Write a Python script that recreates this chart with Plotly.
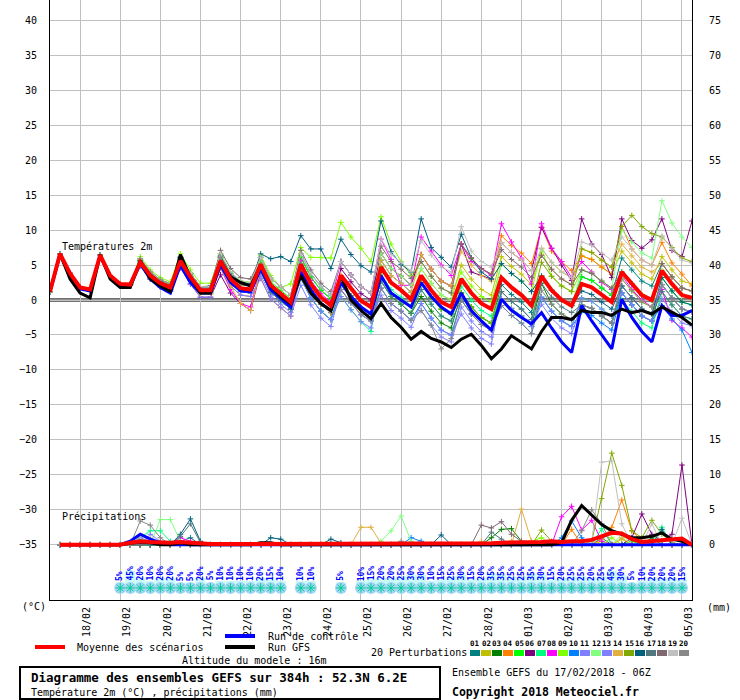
import pandas as pd
import plotly.graph_objects as go

# GEFS run of 17/02/2018 06Z, one value every 6 h from 0 to 384 h
times = pd.date_range("2018-02-17 06:00", periods=65, freq="6h")

# --- 2 m temperature (deg C), 06Z start then 4 values per day (12Z, 18Z, 00Z, 06Z)
t_mean = [1.2,
          6.6, 3.8, 1.8, 1.5, 6.4, 3.5, 2.3, 2.2, 5.4, 3.5, 2.4, 1.8, 5.6, 3.3, 1.4, 1.4,
          5.6, 3.0, 1.7, 1.5, 5.1, 2.1, 0.9, -0.3, 5.1, 2.3, 0.4, -0.8, 3.5, 1.6, -0.1, -1.0,
          4.7, 2.5, 1.4, 0.1, 3.5, 1.4, -0.3, -1.0, 3.0, 1.0, -0.5, -1.3, 3.2, 1.8, 0.7, -0.8,
          3.4, 1.4, 0.0, -0.8, 2.3, 1.8, 0.7, -0.3, 4.0, 2.3, 0.7, 0.0, 4.2, 2.3, 0.7, 0.3]
t_gfs = [1.2,
         6.6, 3.0, 1.0, 0.3, 6.5, 3.0, 1.8, 1.8, 5.6, 3.0, 2.0, 1.2, 6.5, 3.2, 1.0, 1.0,
         5.5, 3.3, 2.5, 2.0, 5.0, 2.0, 0.5, -0.5, 3.5, 1.0, -0.5, -1.5, 3.5, 0.0, -1.5, -2.7,
         -0.5, -2.5, -3.9, -5.6, -4.5, -5.5, -6.0, -6.8, -5.6, -4.9, -6.5, -8.4, -7.0, -5.1, -6.0, -7.0,
         -4.5, -2.5, -2.5, -2.8, -1.5, -1.8, -1.8, -2.2, -1.3, -1.8, -1.5, -2.0, -1.0, -1.8, -2.5, -3.6]
t_ctrl = [1.2,
          6.5, 3.5, 1.6, 1.3, 6.3, 3.3, 2.0, 2.0, 5.2, 3.0, 1.8, 1.0, 5.0, 2.5, 1.0, 1.0,
          5.0, 2.5, 1.3, 1.2, 4.5, 1.5, 0.3, -1.0, 4.0, 1.5, -0.5, -1.5, 2.5, 0.5, -1.0, -2.0,
          3.5, 1.0, 0.0, -1.0, 2.5, 0.5, -1.0, -2.0, 1.0, -1.5, -3.0, -4.3, 0.1, -1.5, -2.5, -3.4,
          -1.8, -4.0, -6.0, -7.5, -0.8, -3.0, -5.0, -7.0, 0.1, -2.5, -4.5, -6.0, -0.8, -2.2, -2.2, -1.5]

t_p01 = [1.2,
         6.6, 3.8, 1.8, 1.5, 6.4, 3.5, 2.3, 2.2, 5.6, 3.7, 2.6, 2.0, 5.9, 3.6, 1.7, 1.7,
         6.1, 3.5, 2.2, 2.0, 6.1, 3.1, 1.9, 0.7, 6.6, 3.8, 1.9, 0.7, 5.5, 3.6, 1.9, 1.0,
         5.7, 3.5, 2.4, 1.1, 2.5, 0.4, -1.3, -2.0, 1.0, -1.0, -2.5, -3.3, 2.2, 0.8, -0.3, -1.8,
         3.4, 1.4, 0.0, -0.8, 3.3, 2.8, 1.7, 0.7, 6.0, 4.3, 2.7, 2.0, 5.2, 3.3, 1.7, 1.3]
t_p02 = [1.2,
         6.6, 3.8, 1.8, 1.5, 6.4, 3.5, 2.3, 2.2, 5.1, 3.2, 2.1, 1.5, 5.1, 2.8, 0.9, 0.9,
         5.6, 3.0, 1.7, 1.5, 4.1, 1.1, -0.1, -1.3, 3.1, 0.3, -1.6, -2.8, 2.5, 0.6, -1.1, -2.0,
         4.7, 2.5, 1.4, 0.1, 4.5, 2.4, 0.7, 0.0, 5.0, 3.0, 1.5, 0.7, 6.2, 4.8, 3.7, 2.2,
         7.4, 5.4, 4.0, 3.2, 6.3, 5.8, 4.7, 3.7, 7.0, 5.3, 3.7, 3.0, 6.2, 4.3, 2.7, 2.3]
t_p03 = [1.2,
         6.6, 3.8, 1.8, 1.5, 6.4, 3.5, 2.3, 2.2, 5.6, 3.7, 2.6, 2.0, 5.6, 3.3, 1.4, 1.4,
         5.1, 2.5, 1.2, 1.0, 5.1, 2.1, 0.9, -0.3, 6.1, 3.3, 1.4, 0.2, 2.5, 0.6, -1.1, -2.0,
         2.7, 0.5, -0.6, -1.9, 0.5, -1.6, -3.3, -4.0, 1.0, -1.0, -2.5, -3.3, 0.2, -1.2, -2.3, -3.8,
         2.4, -0.6, -2.0, -2.8, -0.7, -1.2, -2.3, -3.3, 1.0, -0.7, -2.3, -3.0, 2.2, 0.3, -1.3, -1.7]
t_p04 = [1.2,
         6.6, 3.8, 1.8, 1.5, 6.4, 3.5, 2.3, 2.2, 5.1, 3.2, 2.1, 1.5, 5.1, 2.8, 0.9, 0.9,
         4.6, 2.0, 0.7, 0.5, 3.1, 0.1, -1.1, -2.3, 4.1, 1.3, -0.6, -1.8, 3.5, 1.6, -0.1, -1.0,
         6.7, 4.5, 3.4, 2.1, 6.5, 4.4, 2.7, 2.0, 8.0, 6.0, 4.5, 3.7, 9.2, 7.8, 6.7, 5.2,
         10.4, 7.0, 5.5, 4.2, 6.3, 5.8, 4.7, 3.7, 10.5, 7.3, 5.7, 5.0, 8.2, 5.3, 3.7, 2.0]
t_p05 = [1.2,
         6.6, 3.8, 1.8, 1.5, 6.4, 3.5, 2.3, 2.2, 5.9, 4.0, 2.9, 2.3, 6.1, 3.8, 1.9, 1.9,
         6.6, 4.0, 2.7, 2.5, 5.6, 2.6, 1.4, 0.2, 6.1, 3.3, 1.4, 0.2, 2.5, 0.6, -1.1, -2.0,
         2.7, 0.5, -0.6, -1.9, 2.5, 0.4, -1.3, -2.0, 1.0, -1.0, -2.5, -3.3, 1.2, -0.2, -1.3, -2.8,
         3.4, 1.4, 0.0, -0.8, 3.3, 2.8, 1.7, 0.7, 4.0, 2.3, 0.7, 0.0, 3.2, 1.3, -0.3, -0.7]
t_p06 = [1.2,
         6.6, 3.8, 1.8, 1.5, 6.4, 3.5, 2.3, 2.2, 4.9, 3.0, 1.9, 1.3, 4.6, 2.3, 0.4, 0.4,
         3.6, 1.0, -0.5, -1.5, 4.1, 1.1, -0.1, -1.3, 4.1, 1.3, -0.6, -1.8, 4.5, 2.6, 0.9, 0.0,
         6.7, 4.5, 3.4, 2.1, 6.5, 4.4, 2.7, 2.0, 8.0, 4.0, 3.5, 3.0, 8.2, 6.8, 5.7, 4.2,
         10.4, 7.4, 5.0, 2.8, 11.6, 8.0, 6.5, 3.2, 11.6, 8.5, 7.4, 8.6, 11.6, 7.1, 6.2, 11.3]
t_p07 = [1.2,
         6.6, 3.8, 1.8, 1.5, 6.4, 3.5, 2.3, 2.2, 5.7, 3.8, 2.7, 2.1, 5.6, 3.3, 1.4, 1.4,
         6.1, 3.5, 2.2, 2.0, 4.1, 1.1, -0.1, -1.3, 3.1, 0.3, -1.6, -2.8, 0.5, -1.4, -3.1, -4.5,
         3.7, 1.5, 0.4, -0.9, 1.5, -0.6, -2.3, -3.0, 2.0, 0.0, -1.5, -2.3, 0.2, -1.2, -2.3, -3.8,
         0.4, -1.6, -3.0, -3.8, 0.3, -0.2, -1.3, -2.3, 0.0, -1.7, -3.3, -4.0, 1.2, -0.7, -2.3, -2.7]
t_p08 = [1.2,
         6.6, 3.8, 1.8, 1.5, 6.4, 3.5, 2.3, 2.2, 5.9, 4.0, 2.9, 2.3, 6.1, 3.8, 1.9, 1.9,
         4.6, 1.5, -0.5, -1.0, 4.6, 1.6, 0.4, -0.8, 5.6, 2.8, 0.9, -0.3, 5.5, 3.6, 1.9, 1.0,
         8.7, 5.8, 2.1, 2.1, 9.0, 7.0, 5.0, 3.5, 8.0, 5.5, 4.5, 3.5, 10.9, 8.3, 6.0, 2.3,
         10.9, 7.4, 5.5, 3.2, 5.5, 4.0, 2.5, 1.5, 3.5, 1.5, 0.0, -1.0, 1.5, -2.9, -4.0, -5.3]
t_p09 = [1.2,
         6.6, 3.8, 1.8, 1.5, 6.4, 3.5, 2.3, 2.2, 6.2, 4.3, 3.2, 2.6, 6.6, 4.3, 2.4, 2.4,
         6.6, 4.0, 2.7, 2.5, 6.4, 3.5, 1.8, 2.3, 7.5, 6.1, 6.1, 6.0, 11.1, 9.0, 7.4, 5.5,
         11.9, 8.0, 5.5, 3.5, 5.5, 3.4, 1.7, 1.0, 4.0, 2.0, 0.5, -0.3, 5.2, 3.8, 2.7, 1.2,
         7.3, 3.4, 2.0, 1.2, 4.3, 3.8, 2.7, 1.7, 3.0, 1.3, -0.3, -1.0, 4.2, 2.3, 0.7, 0.3]
t_p10 = [1.2,
         6.6, 3.8, 1.8, 1.5, 6.4, 3.5, 2.3, 2.2, 4.9, 3.0, 1.9, 1.3, 5.3, 3.0, 1.1, 1.1,
         5.1, 2.5, 1.2, 1.0, 4.1, 1.1, -0.1, -1.3, 3.1, 0.3, -1.6, -2.8, 1.5, -0.4, -2.1, -3.0,
         1.7, -0.5, -1.6, -2.9, -0.5, -2.6, -4.3, -5.0, 0.0, -2.0, -3.5, -4.3, -0.8, -2.2, -3.3, -4.8,
         0.4, -1.6, -3.0, -3.8, -1.7, -2.2, -3.3, -4.3, 1.0, -0.7, -2.3, -3.0, -0.8, -2.7, -4.3, -7.5]
t_p11 = [1.2,
         6.6, 3.8, 1.8, 1.5, 6.4, 3.5, 2.3, 2.2, 4.9, 3.0, 1.9, 1.3, 4.6, 2.3, 0.4, 0.4,
         5.1, 2.5, 1.2, 1.0, 3.6, 0.6, -0.6, -1.8, 3.1, 0.3, -1.6, -2.8, 0.5, -1.4, -3.1, -4.0,
         1.7, -0.5, -1.6, -2.9, -1.5, -3.6, -5.3, -6.0, -1.0, -3.0, -4.5, -5.3, 0.2, -1.2, -2.3, -3.8,
         -0.6, -2.6, -4.0, -4.8, -0.7, -1.2, -2.3, -3.3, 2.0, 0.3, -1.3, -2.0, 2.2, 0.3, -1.3, -1.7]
t_p12 = [1.2,
         6.6, 3.8, 1.8, 1.5, 6.4, 3.5, 2.3, 2.2, 5.9, 4.0, 2.9, 2.3, 6.1, 3.8, 1.9, 1.9,
         6.1, 3.5, 2.2, 2.0, 6.1, 3.1, 1.9, 0.7, 5.1, 2.3, 0.4, -0.8, 2.5, 0.6, -1.1, -2.0,
         6.7, 4.5, 3.4, 2.1, 4.5, 2.4, 0.7, 0.0, 3.0, 1.0, -0.5, -1.3, 5.2, 3.8, 2.7, 1.2,
         3.4, 1.4, 0.0, -0.8, 4.3, 3.8, 2.7, 1.7, 10.0, 8.3, 6.7, 6.0, 14.2, 11.0, 9.0, 7.5]
t_p13 = [1.2,
         6.6, 3.8, 1.8, 1.5, 6.4, 3.5, 2.3, 2.2, 4.9, 3.0, 1.9, 1.3, 5.1, 2.8, 0.9, 0.9,
         4.6, 2.0, 0.7, 0.5, 3.1, 0.1, -1.1, -2.3, 2.1, -0.7, -2.6, -3.8, 1.5, -0.4, -2.1, -3.0,
         0.7, -1.5, -2.6, -3.9, -0.5, -2.6, -4.3, -5.0, -2.0, -4.0, -5.5, -6.3, 1.2, -0.2, -1.3, -2.8,
         0.4, -1.6, -3.0, -3.8, 0.3, -0.2, -1.3, -2.3, 1.0, -0.7, -2.3, -3.0, 0.2, -1.7, -3.3, -3.7]
t_p14 = [1.2,
         6.6, 3.8, 1.8, 1.5, 6.4, 3.5, 2.3, 2.2, 5.1, 3.2, 2.1, 1.5, 5.1, 2.8, 0.9, 0.9,
         4.6, 2.0, -0.5, -1.5, 4.6, 1.6, 0.4, -0.8, 4.1, 1.3, -0.6, -1.8, 3.5, 1.6, -0.1, -1.0,
         5.7, 3.5, 2.4, 1.1, 6.5, 4.4, 2.7, 2.0, 7.0, 5.0, 3.5, 2.7, 8.2, 6.8, 5.7, 4.2,
         6.4, 4.4, 3.0, 2.2, 7.3, 6.8, 5.7, 4.7, 8.0, 6.3, 4.7, 4.0, 5.2, 3.3, 1.7, 1.3]
t_p15 = [1.2,
         6.6, 3.8, 1.8, 1.5, 6.4, 3.5, 2.3, 2.2, 5.7, 3.8, 2.7, 2.1, 5.6, 3.3, 1.4, 1.4,
         6.1, 3.5, 2.2, 2.0, 5.1, 2.1, 0.9, -0.3, 4.1, 1.3, -0.6, -1.8, 2.5, 0.6, -1.1, -2.0,
         4.7, 2.5, 1.4, 0.1, 2.5, 0.4, -1.3, -2.0, 1.0, -1.0, -2.5, -3.3, 3.2, 1.8, 0.7, -0.8,
         5.4, 3.4, 2.0, 1.2, 7.3, 6.8, 5.7, 4.7, 10.5, 12.1, 10.5, 9.5, 9.0, 7.5, 6.0, 5.5]
t_p16 = [1.2,
         6.6, 3.8, 1.8, 1.5, 6.4, 3.5, 2.3, 2.2, 5.6, 3.7, 2.6, 2.0, 6.1, 3.8, 1.9, 2.0,
         6.3, 3.8, 2.5, 2.3, 6.6, 5.9, 6.2, 5.5, 9.2, 7.3, 7.3, 4.5, 8.7, 6.5, 4.9, 4.0,
         11.3, 6.9, 5.1, 4.0, 11.6, 7.5, 6.1, 4.7, 9.4, 6.0, 4.0, 3.0, 5.2, 3.8, 2.7, 1.2,
         3.4, 1.4, 0.0, -0.8, 1.3, 0.8, -0.3, -1.3, 2.0, 0.3, -1.3, -2.0, 3.2, 1.3, -0.3, -0.7]
t_p17 = [1.2,
         6.6, 3.8, 1.8, 1.5, 6.4, 3.5, 2.3, 2.2, 5.4, 3.5, 2.4, 1.8, 6.1, 3.8, 1.9, 1.9,
         5.6, 3.0, 1.7, 1.5, 4.1, 1.1, -0.1, -1.3, 5.1, 2.3, 0.4, -0.8, 2.5, 0.6, -1.1, -2.0,
         2.7, 0.5, -0.6, -1.9, 1.5, -0.6, -2.3, -3.0, 0.0, -2.0, -3.5, -4.3, 1.2, -0.2, -1.3, -2.8,
         2.4, 0.4, -1.0, -1.8, -0.7, -1.2, -2.3, -3.3, 2.0, 0.3, -1.3, -2.0, 1.2, -0.7, -2.3, -2.7]
t_p18 = [1.2,
         6.6, 3.8, 1.8, 1.5, 6.4, 3.5, 2.3, 2.2, 5.1, 3.2, 2.1, 1.5, 6.1, 3.8, 1.9, 1.9,
         7.1, 4.5, 3.2, 3.0, 6.1, 3.1, 1.9, 0.7, 7.1, 4.3, 2.4, 1.2, 5.5, 3.6, 1.9, 1.0,
         7.7, 5.5, 4.4, 3.1, 5.5, 3.4, 1.7, 1.0, 8.0, 6.0, 4.5, 3.7, 7.2, 5.8, 4.7, 3.2,
         6.4, 4.4, 3.0, 2.2, 4.3, 3.8, 2.7, 1.7, 4.0, 2.3, 0.7, 0.0, 5.2, 3.3, 1.7, 1.3]
t_p19 = [1.2,
         6.6, 3.8, 1.8, 1.5, 6.4, 3.5, 2.3, 2.2, 5.9, 4.0, 2.9, 2.3, 6.1, 3.8, 1.9, 1.9,
         6.6, 4.0, 2.7, 2.5, 6.1, 3.1, 1.9, 0.7, 6.6, 3.8, 1.9, 0.7, 5.5, 3.6, 1.9, 1.0,
         8.7, 6.5, 5.4, 4.1, 8.5, 6.4, 4.7, 4.0, 10.5, 7.0, 5.5, 4.7, 8.2, 6.8, 5.7, 4.2,
         7.4, 5.4, 4.0, 3.2, 8.3, 7.8, 6.7, 5.7, 9.0, 7.3, 5.7, 5.0, 9.2, 7.3, 5.7, 5.3]
t_p20 = [1.2,
         6.6, 3.8, 1.8, 1.5, 6.4, 3.5, 2.3, 2.2, 5.9, 4.0, 2.9, 2.3, 5.6, 3.3, 1.4, 1.4,
         6.1, 3.5, 2.2, 2.0, 5.1, 2.1, 0.9, -0.3, 4.1, 1.3, -0.6, -1.8, 1.5, -0.4, -2.1, -3.0,
         1.7, -0.5, -1.6, -2.9, -1.5, -3.6, -7.0, -5.5, 0.0, -2.0, -3.5, -4.3, -0.8, -2.2, -3.3, -4.8,
         1.4, -0.6, -2.0, -2.8, -0.7, -1.2, -2.3, -3.3, 3.0, 1.3, -0.3, -1.0, 2.2, 0.3, -1.3, -1.7]

# --- 6 h precipitation (mm), no value at the run start
pr_mean = [None, 0, 0, 0, 0, 0, 0, 0, 0.3, 0.5, 0.4, 0.3, 0.3, 0.4, 0.3, 0.1,
           0.1, 0.1, 0.1, 0.1, 0.1, 0.1, 0.1, 0.1, 0.1, 0.1, 0.1, 0.1, 0.1, 0.1, 0.1, 0.1,
           0.2, 0.2, 0.2, 0.2, 0.2, 0.2, 0.2, 0.2, 0.2, 0.2, 0.2, 0.2, 0.2, 0.3, 0.3, 0.3,
           0.4, 0.4, 0.5, 0.4, 0.5, 0.5, 0.7, 1.2, 1.7, 1.6, 0.8, 0.4, 0.5, 0.6, 0.7, 0.9,
           0]
pr_gfs = [None, 0, 0, 0, 0, 0, 0, 0, 0.2, 0.4, 0.3, 0, 0, 0.3, 0, 0,
          0, 0, 0, 0, 0, 0.3, 0.3, 0, 0, 0, 0, 0, 0, 0, 0, 0,
          0, 0, 0, 0, 0, 0, 0, 0, 0, 0, 0, 0, 0, 0, 0, 0,
          0, 0, 0, 0.3, 3.5, 5.6, 4.2, 2.9, 2.0, 1.5, 1.0, 1.0, 1.2, 1.7, 0.8, 0.5,
          0]
pr_ctrl = [None, 0, 0, 0, 0, 0, 0, 0, 0.5, 1.5, 0.8, 0.3, 0, 0, 0, 0,
           0, 0, 0, 0, 0, 0, 0, 0, 0, 0, 0, 0, 0, 0, 0, 0,
           0, 0, 0, 0, 0, 0, 0, 0, 0, 0, 0, 0, 0, 0, 0, 0,
           0, 0, 0, 0, 0, 0, 0, 0, 0, 0, 0, 0, 0, 0, 0, 0,
           0]

pr_p01 = [None, 0, 0, 0, 0, 0, 0, 0, 0, 0, 0, 0, 0, 0.5, 1.0, 0,
          0, 0, 0, 0, 0, 0, 0, 0, 0, 0, 0, 0, 0, 0, 0, 0,
          0, 0, 0, 0, 0, 0, 0, 0, 0, 0, 0, 0, 0, 0, 0, 0,
          0, 0, 0, 0, 0, 0, 0, 1.0, 0, 0, 1.0, 0, 0, 0, 0, 0,
          0]
pr_p02 = [None, 0, 0, 0, 0, 0, 0, 0, 0, 0, 0, 0, 0, 0, 0, 0,
          0, 0, 0, 0, 0, 0, 0, 0, 0, 0, 0, 0, 0, 0, 0, 0,
          0, 0, 0, 0, 0, 0, 0, 0, 0, 0, 0, 0, 0, 0, 0.5, 0,
          0, 0, 0, 0, 0, 0, 0, 0.5, 0, 0.8, 0, 0, 0, 0, 0, 0,
          0]
pr_p03 = [None, 0, 0, 0, 0, 0, 0, 0, 0, 0.5, 0, 0, 0, 0, 0, 0,
          0, 0, 0, 0, 0, 0, 0, 0, 0, 0, 0, 0, 0, 0, 0, 0,
          0, 0, 0, 0, 0, 0, 0, 0, 0, 0, 0, 0, 1.0, 2.2, 2.3, 0.5,
          0, 0, 0, 0, 0, 0, 0, 0, 0, 0, 0, 0, 1.0, 0, 0, 0,
          0]
pr_p04 = [None, 0, 0, 0, 0, 0, 0, 0, 0, 0, 0, 0, 0, 0, 0, 0,
          0, 0, 0, 0, 0, 0, 0, 0, 0, 0, 0, 0, 0, 0, 0, 0,
          0, 0, 0, 0, 0, 0, 0, 0, 0, 0, 0, 0, 0, 0, 0, 0.5,
          0, 0, 0, 0, 2.2, 0, 0, 0.8, 2.5, 6.4, 2.0, 0.5, 0, 0, 0, 0,
          0]
pr_p05 = [None, 0, 0, 0, 0, 0, 0, 0, 0, 0.8, 0.3, 0, 0, 0, 0, 0,
          0, 0, 0, 0, 0, 0, 0, 0, 0, 0, 0, 0, 0, 0, 0, 0,
          0, 0, 0, 0, 0, 0, 0, 0, 0, 0, 0, 0, 0, 0, 0, 0,
          0, 0.5, 0, 0, 0, 0, 0, 0, 0, 0, 0.5, 0, 0, 0, 0, 0,
          0]
pr_p06 = [None, 0, 0, 0, 0, 0, 0, 0, 0, 0, 0, 0, 0, 0, 0, 0,
          0, 0, 0, 0, 0, 0, 0, 0, 0, 0, 0, 0, 0, 0, 0, 0,
          0, 0, 0, 0, 0, 0, 0, 0, 0, 0, 0, 0, 0, 0, 0, 0,
          0, 0, 0, 0, 0, 0, 0, 0, 0, 0, 1.0, 4.4, 1.5, 0.5, 1.5, 11.4,
          0]
pr_p07 = [None, 0, 0, 0, 0, 0, 0, 0, 0, 1.0, 2.0, 2.0, 0.5, 0, 0, 0,
          0, 0, 0, 0, 0, 0, 0, 0, 0, 0, 0, 0, 0, 0, 0, 0,
          0, 0, 0, 0, 0, 0, 0, 0, 0, 0, 0, 0, 0, 0, 0, 0,
          0, 0, 0, 0, 0, 0, 0, 2.3, 0, 0, 0, 0, 0, 2.5, 0, 0,
          0]
pr_p08 = [None, 0, 0, 0, 0, 0, 0, 0, 0, 0, 0, 0, 0, 1.0, 0.5, 0,
          0, 0, 0, 0, 0, 0, 0, 0, 0, 0, 0, 0, 0, 0, 0, 0,
          0, 0, 0, 0, 0, 0, 0, 0, 0, 0, 0, 0, 0, 0, 0, 0,
          0, 0, 0, 4.0, 5.5, 2.1, 3.5, 0.5, 0, 0, 0, 0, 0, 0, 0, 0,
          0]
pr_p09 = [None, 0, 0, 0, 0, 0, 0, 0, 0, 0, 0, 0, 0, 0, 0, 0,
          0, 0, 0, 0, 0, 0, 0, 0, 0, 0, 0, 0, 0, 0, 0, 0,
          0, 0, 0, 0, 0, 0, 0, 0, 0, 0, 0, 0, 0, 0, 0, 0,
          0.5, 1.0, 0, 0, 0, 0, 0, 0, 1.0, 0, 0, 0, 0, 0, 0, 0,
          0]
pr_p10 = [None, 0, 0, 0, 0, 0, 0, 0, 0, 0, 0, 0, 0, 0, 0, 0,
          0, 0, 0, 0, 0, 0, 0, 0, 0, 0, 0, 0, 0, 0, 0, 0,
          0, 0, 0, 0, 1.0, 0.5, 0, 0, 0, 0, 0, 0, 0, 0, 0, 0,
          0, 0, 0, 1.0, 3.4, 1.0, 0, 0, 0, 0, 0, 0, 0, 0, 0, 0,
          0]
pr_p11 = [None, 0, 0, 0, 0, 0, 0, 0, 0, 1.0, 0.5, 0, 0, 0, 0, 0,
          0, 0, 0, 0, 0, 0, 0, 0, 0, 0, 0, 0, 0, 0, 0, 0,
          0, 0, 0, 0, 0, 0, 0, 0, 0, 0, 0, 0, 0, 0, 0, 0,
          0, 0, 0, 0, 0, 0, 0, 0, 0, 0, 0, 0, 0, 0, 0, 0,
          0]
pr_p12 = [None, 0, 0, 0, 0, 0, 0, 0, 0, 0, 0, 3.6, 3.6, 0.5, 0, 0,
          0, 0, 0, 0, 0, 0, 0, 0, 0, 0, 0, 0, 0, 0, 0, 0,
          0, 0.5, 2.0, 4.1, 0.5, 0, 0, 0, 0, 0, 0, 0, 0, 0, 0, 0,
          0, 0, 0, 0, 0, 0, 0, 0, 0, 1.5, 0, 0, 0, 0, 0, 0,
          0]
pr_p13 = [None, 0, 0, 0, 0, 0, 0, 0, 0, 0, 1.5, 0.5, 0, 0, 0, 0,
          0, 0, 0, 0, 0, 0, 0, 0, 0, 0, 0, 0, 0, 0, 0, 0,
          0, 0, 0, 0, 0, 0, 0, 0, 0, 0, 0, 0, 0, 0, 0, 0,
          0, 0, 0, 0, 0, 0, 0, 0, 0, 0, 0, 0, 0, 0, 0, 0,
          0]
pr_p14 = [None, 0, 0, 0, 0, 0, 0, 0, 0, 0, 0.5, 0, 0, 0, 0, 0,
          0, 0, 0, 0, 0, 0, 0, 0, 0, 0, 0, 0, 0, 0, 0, 2.5,
          2.5, 0.2, 0, 0, 0, 0, 0, 0, 0, 0, 0, 0.5, 0, 0, 0, 5.1,
          0.5, 0, 0, 0, 0, 0, 0, 0, 0, 1.0, 0, 0, 0, 0, 0, 0,
          0]
pr_p15 = [None, 0, 0, 0, 0, 0, 0, 0, 0, 0, 0, 0, 0, 0, 0, 0,
          0, 0, 0, 0, 0, 0, 0, 0, 0, 0, 0, 0, 0, 0, 0, 0,
          0, 0, 0, 0, 0, 0, 0, 0, 0, 0, 0, 0, 0, 0, 0, 0,
          0, 2.1, 0.5, 0, 0, 0, 0.5, 6.6, 13.1, 8.5, 2.0, 1.0, 3.5, 1.5, 0.3, 0,
          0]
pr_p16 = [None, 0, 0, 0, 0, 0, 0, 0, 0, 0, 0, 0, 0, 1.5, 3.7, 0.5,
          0, 0, 0, 0, 0, 0, 1.0, 0.8, 0, 0, 0, 0, 0.8, 0.3, 0, 0,
          0, 0, 0, 0, 0, 0, 0, 1.4, 0, 0, 0, 0, 0, 0, 0, 0,
          0, 0, 0, 0, 0, 0, 0, 0, 0, 0, 0, 0, 0, 2.2, 0, 0,
          0]
pr_p17 = [None, 0, 0, 0, 0, 0, 0, 0, 0, 0, 0, 0, 0, 1.2, 3.0, 0.3,
          0, 0, 0, 0, 0, 0, 0, 0, 0, 0, 0, 0, 0, 0, 0, 0,
          0, 0, 0, 0, 0, 0, 0, 0, 0, 0, 0, 0, 1.8, 0.8, 0, 0,
          0, 0, 0, 0, 0, 0, 0, 0, 0, 0, 0, 0, 0, 0, 0, 0,
          0]
pr_p18 = [None, 0, 0, 0, 0, 0, 0, 0, 0, 0, 0.5, 0, 0, 0, 0, 0,
          0, 0, 0, 0, 0, 0, 0, 0, 0, 0, 0, 0, 0, 0, 0, 0,
          0, 0, 0, 0, 0, 0, 0, 0, 0, 0, 0, 2.8, 2.4, 3.3, 1.5, 0.5,
          0, 0, 0, 0, 0, 0, 0, 0, 0, 0, 0, 0, 0, 0, 0, 0,
          0]
pr_p19 = [None, 0, 0, 0, 0, 0, 0, 0, 0, 1.2, 1.0, 0, 0, 0, 0, 0,
          0, 0, 0, 0, 0, 0, 0, 0, 0, 0, 0, 0, 0, 0, 0, 0,
          0, 0, 0, 0, 0, 0, 0, 0, 0, 0, 0, 0, 0, 0, 0, 0,
          0, 0, 0, 0, 0, 0, 0.4, 11.8, 12.0, 3.0, 0, 0, 3.0, 0, 0, 3.8,
          0]
pr_p20 = [None, 0, 0, 0, 0, 0, 0, 0, 0, 3.4, 2.8, 1.0, 0, 0, 0, 0,
          0, 0, 0, 0, 0, 0, 0, 0, 0, 0, 0, 0, 0, 0, 0, 0,
          0, 0, 0, 0.5, 0, 0, 0, 0, 0, 0, 0, 0, 0, 0, 0, 0,
          0, 0, 0, 0, 0, 2.0, 5.0, 3.0, 0, 0, 0, 0, 0, 0, 0, 0,
          0]

# --- snow probability (%) per 6 h step
snow_pct = [0, 0, 0, 0, 0, 0, 0, 5, 45, 20, 10, 20, 20, 5, 5, 20,
            5, 10, 10, 10, 10, 20, 15, 10, 0, 10, 10, 0, 0, 5, 0, 10,
            15, 20, 20, 25, 30, 30, 10, 15, 25, 30, 15, 20, 35, 35, 25, 25,
            35, 30, 15, 20, 25, 25, 20, 25, 45, 30, 5, 10, 20, 20, 20, 15,
            0]

member_names = ["01", "02", "03", "04", "05", "06", "07", "08", "09", "10",
                "11", "12", "13", "14", "15", "16", "17", "18", "19", "20"]
member_colors = ["#008080", "#c0c000", "#008000", "#ff8000", "#00ff00",
                 "#800080", "#00ff80", "#ff00ff", "#80ff00", "#0080ff",
                 "#8080ff", "#80ff80", "#8080ff", "#e0b040", "#80a800",
                 "#006080", "#507880", "#806870", "#c0c0c0", "#888888"]
t_members = [t_p01, t_p02, t_p03, t_p04, t_p05, t_p06, t_p07, t_p08, t_p09, t_p10,
             t_p11, t_p12, t_p13, t_p14, t_p15, t_p16, t_p17, t_p18, t_p19, t_p20]
pr_members = [pr_p01, pr_p02, pr_p03, pr_p04, pr_p05, pr_p06, pr_p07, pr_p08, pr_p09, pr_p10,
              pr_p11, pr_p12, pr_p13, pr_p14, pr_p15, pr_p16, pr_p17, pr_p18, pr_p19, pr_p20]

FONT = "DejaVu Sans Mono"


def px(x):
    # pixel column of the 740 px page -> paper coordinate
    return (x - 50) / 642


def py(y):
    # pixel row of the page -> paper coordinate
    return (600 - y) / 600


fig = go.Figure()

# snow band under the curves (own hidden axis scaled in %)
snow_t = [t for t, p in zip(times, snow_pct) if p > 0]
snow_p = [p for p in snow_pct if p > 0]
fig.add_trace(go.Bar(x=snow_t, y=snow_p, yaxis="y3", width=6 * 3600 * 1000,
                     marker=dict(color="#c8fafa", line_width=0), hoverinfo="skip"))
fig.add_trace(go.Scatter(x=snow_t, y=[-13] * len(snow_t), yaxis="y3", mode="markers",
                         marker=dict(symbol="circle", size=12, color="#a6d6f6", line_width=0),
                         hoverinfo="skip"))
fig.add_trace(go.Scatter(x=snow_t, y=[-13] * len(snow_t), yaxis="y3", mode="markers",
                         marker=dict(symbol="asterisk-open", size=8,
                                     line=dict(color="#5aa6e6", width=1)),
                         hoverinfo="skip"))

# temperature spaghetti
for t, c in zip(t_members, member_colors):
    fig.add_trace(go.Scatter(x=times, y=t, mode="lines+markers",
                             line=dict(color=c, width=1),
                             marker=dict(symbol="cross-thin", size=4, line=dict(color=c, width=1)),
                             hoverinfo="skip"))
fig.add_trace(go.Scatter(x=times, y=t_ctrl, mode="lines", line=dict(color="#0000ff", width=3),
                         hoverinfo="skip"))
fig.add_trace(go.Scatter(x=times, y=t_gfs, mode="lines", line=dict(color="black", width=3),
                         hoverinfo="skip"))
fig.add_trace(go.Scatter(x=times, y=t_mean, mode="lines", line=dict(color="#ff0000", width=4),
                         hoverinfo="skip"))

# precipitation spaghetti on the right hand (mm) axis
for pr, c in zip(pr_members, member_colors):
    fig.add_trace(go.Scatter(x=times, y=pr, yaxis="y2", mode="lines+markers",
                             line=dict(color=c, width=1),
                             marker=dict(symbol="cross-thin", size=4, line=dict(color=c, width=1)),
                             hoverinfo="skip"))
fig.add_trace(go.Scatter(x=times, y=pr_ctrl, yaxis="y2", mode="lines",
                         line=dict(color="#0000ff", width=3), hoverinfo="skip"))
fig.add_trace(go.Scatter(x=times, y=pr_gfs, yaxis="y2", mode="lines",
                         line=dict(color="black", width=3), hoverinfo="skip"))
fig.add_trace(go.Scatter(x=times, y=pr_mean, yaxis="y2", mode="lines",
                         line=dict(color="#ff0000", width=4), hoverinfo="skip"))

annotations = []
# snow percentages
for t, p in zip(snow_t, snow_p):
    annotations.append(dict(x=t, y=4, xref="x", yref="y3", text=f"<b>{p}%</b>",
                            textangle=-90, showarrow=False, xanchor="center", yanchor="bottom",
                            font=dict(family=FONT, size=8, color="#0000ff")))

texts = [
    ("Températures 2m", 60, 246, 10, "left"),
    ("Précipitations", 60, 516, 10, "left"),
    ("(°C)", 20, 606, 10, "left"),
    ("(mm)", 705, 607, 10, "left"),
    ("Moyenne des scénarios", 75, 647, 10, "left"),
    ("Run de contrôle", 266, 636, 10, "left"),
    ("Run GFS", 266, 647, 10, "left"),
    ("Altitude du modele : 16m", 180, 660, 10, "left"),
    ("20 Perturbations", 369, 652, 10, "left"),
    ("<b>Diagramme des ensembles GEFS sur 384h : 52.3N 6.2E</b>", 29, 677, 12.5, "left"),
    ("Température 2m (°C) , précipitations (mm)", 29, 692, 10, "left"),
    ("Ensemble GEFS du 17/02/2018 - 06Z", 450, 672, 10, "left"),
    ("<b>Copyright 2018 Meteociel.fr</b>", 450, 692, 11.5, "left"),
]
for txt, x, y, size, anchor in texts:
    annotations.append(dict(x=px(x), y=py(y), xref="paper", yref="paper", text=txt,
                            showarrow=False, xanchor=anchor, yanchor="middle",
                            font=dict(family=FONT, size=size, color="black")))

shapes = [
    # doubled zero line: two thin black lines with a white gap, under the curves
    dict(type="line", xref="paper", x0=0, x1=1, yref="y", y0=0, y1=0, layer="below",
         line=dict(color="white", width=1)),
    dict(type="line", xref="paper", x0=0, x1=1, yref="y", y0=0.15, y1=0.15, layer="below",
         line=dict(color="black", width=1)),
    dict(type="line", xref="paper", x0=0, x1=1, yref="y", y0=-0.15, y1=-0.15, layer="below",
         line=dict(color="black", width=1)),
    # legend lines
    dict(type="line", xref="paper", yref="paper", x0=px(35), x1=px(65), y0=py(647), y1=py(647),
         line=dict(color="#ff0000", width=4)),
    dict(type="line", xref="paper", yref="paper", x0=px(225), x1=px(255), y0=py(636), y1=py(636),
         line=dict(color="#0000ff", width=4)),
    dict(type="line", xref="paper", yref="paper", x0=px(225), x1=px(255), y0=py(647), y1=py(647),
         line=dict(color="black", width=4)),
    # title box
    dict(type="rect", xref="paper", yref="paper", x0=px(20), x1=px(440), y0=py(667), y1=py(699),
         line=dict(color="black", width=2), fillcolor="rgba(0,0,0,0)"),
]
for k, (name, c) in enumerate(zip(member_names, member_colors)):
    left = 470 + 11 * k
    shapes.append(dict(type="rect", xref="paper", yref="paper", x0=px(left), x1=px(left + 10),
                       y0=py(656), y1=py(650), line_width=0, fillcolor=c))
    annotations.append(dict(x=px(left + 5), y=py(643), xref="paper", yref="paper",
                            text=f"<b>{name}</b>", showarrow=False, xanchor="center",
                            yanchor="middle", font=dict(family=FONT, size=7.5, color="black")))

fig.update_layout(
    width=740, height=700,
    margin=dict(l=50, r=48, t=0, b=100),
    paper_bgcolor="white", plot_bgcolor="white",
    showlegend=False,
    barmode="overlay",
    font=dict(family=FONT, size=10, color="black"),
    xaxis=dict(type="date", range=["2018-02-17 06:00", "2018-03-05 06:00"],
               tick0="2018-02-18", dtick=86400000, tickformat="%d/%m", tickangle=-90,
               showgrid=True, gridcolor="#c0c0c0", gridwidth=1, zeroline=False,
               showline=True, linecolor="black", linewidth=1, ticks="",
               ticklabelshift=7, ticklabelstandoff=2, tickfont=dict(size=10)),
    yaxis=dict(range=[-42.9, 42.9], tickvals=list(range(-35, 41, 5)),
               showgrid=True, gridcolor="#c0c0c0", gridwidth=1, zeroline=False,
               showline=True, linecolor="black", linewidth=1, ticks="",
               ticklabelstandoff=10, tickfont=dict(size=10)),
    yaxis2=dict(overlaying="y", side="right", range=[-7.9, 77.9],
                tickvals=list(range(0, 76, 5)), showgrid=False, zeroline=False,
                showline=True, linecolor="black", linewidth=1, ticks="",
                ticklabelstandoff=14, tickfont=dict(size=10)),
    yaxis3=dict(overlaying="y", range=[-53.3, 1946.7], visible=False),
    annotations=annotations,
    shapes=shapes,
)

# the page body has a default 8 px margin; drop it so the figure sits at the window corner
fig.write_html("out.html", config={"displayModeBar": False},
               post_script="document.body.style.margin='0px';")
